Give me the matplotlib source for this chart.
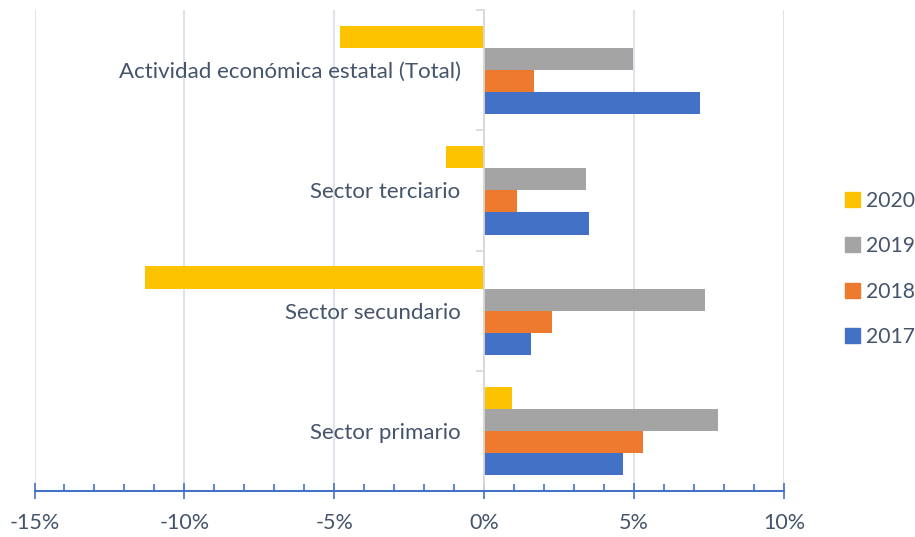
import matplotlib
matplotlib.use("Agg")
import matplotlib.pyplot as plt
from matplotlib.ticker import MultipleLocator, FixedLocator, FuncFormatter
from matplotlib.patches import Patch
import numpy as np

plt.rcParams['font.family'] = ['Lato', 'DejaVu Sans']

categories = ["Sector primario", "Sector secundario", "Sector terciario",
              "Actividad económica estatal (Total)"]
years = ["2017", "2018", "2019", "2020"]
v2017 = [4.62, 1.57, 3.51, 7.20]
v2018 = [5.29, 2.27, 1.10, 1.67]
v2019 = [7.81, 7.37, 3.38, 4.95]
v2020 = [0.93, -11.32, -1.29, -4.81]
series = [v2017, v2018, v2019, v2020]
colors = ["#4371C6", "#EE7A30", "#A4A4A4", "#FDC300"]

text_color = "#44546A"
fs = 16

fig = plt.figure(figsize=(9.15, 5.37), dpi=100)
ax = fig.add_axes([34.5/915, 1-491/537, (784-34.5)/915, (491-10)/537])

y = np.arange(len(categories))
h = 0.1835
for i, (vals, c) in enumerate(zip(series, colors)):
    ax.barh(y + (i - 1.5) * h, vals, height=h, color=c, zorder=3)

ax.set_xlim(-15, 10)
ax.set_ylim(-0.5, 3.5)

# x axis
ax.xaxis.set_major_locator(MultipleLocator(5))
ax.xaxis.set_minor_locator(MultipleLocator(1))
ax.xaxis.set_major_formatter(FuncFormatter(lambda v, p: f"{v:.0f}%"))
ax.tick_params(axis='x', which='major', direction='inout', length=12, width=1.2,
               color="#4472C4", labelsize=15.5, labelcolor=text_color, pad=10)
ax.tick_params(axis='x', which='minor', direction='in', length=5, width=1.2,
               color="#4472C4")
ax.grid(axis='x', which='major', color="#DCE1EA", lw=1.3, zorder=0)

# y axis at x=0
ax.spines['left'].set_position(('data', 0))
ax.spines['left'].set_color("#D9D9D9")
ax.spines['left'].set_linewidth(1.3)
ax.spines['left'].set_zorder(4)
ax.spines['bottom'].set_color("#4472C4")
ax.spines['bottom'].set_linewidth(1.5)
ax.spines['bottom'].set_zorder(5)
for s in ['top', 'right']:
    ax.spines[s].set_visible(False)
ax.yaxis.set_major_locator(FixedLocator(np.arange(-0.5, 3.6, 1.0)))
ax.yaxis.set_major_formatter(FuncFormatter(lambda v, p: ""))
ax.yaxis.set_minor_locator(FixedLocator(y))
ax.set_yticks(y, categories, minor=True)
ax.tick_params(axis='y', which='major', direction='out', length=6, width=1.3,
               color="#D9D9D9")
ax.tick_params(axis='y', which='minor', length=0, pad=17, labelsize=fs,
               labelcolor=text_color)

lfs = 15.2
handles = [Patch(color=c, label=l) for c, l in zip(colors[::-1], years[::-1])]
leg = fig.legend(handles=handles, loc='center left',
                 bbox_to_anchor=(845/915, 1-269/537), frameon=False,
                 fontsize=lfs, handlelength=0.71, handleheight=0.71,
                 handletextpad=0.28, labelspacing=1.21, borderpad=0,
                 borderaxespad=0)
for t in leg.get_texts():
    t.set_color(text_color)

fig.savefig("out.png", dpi=100)
